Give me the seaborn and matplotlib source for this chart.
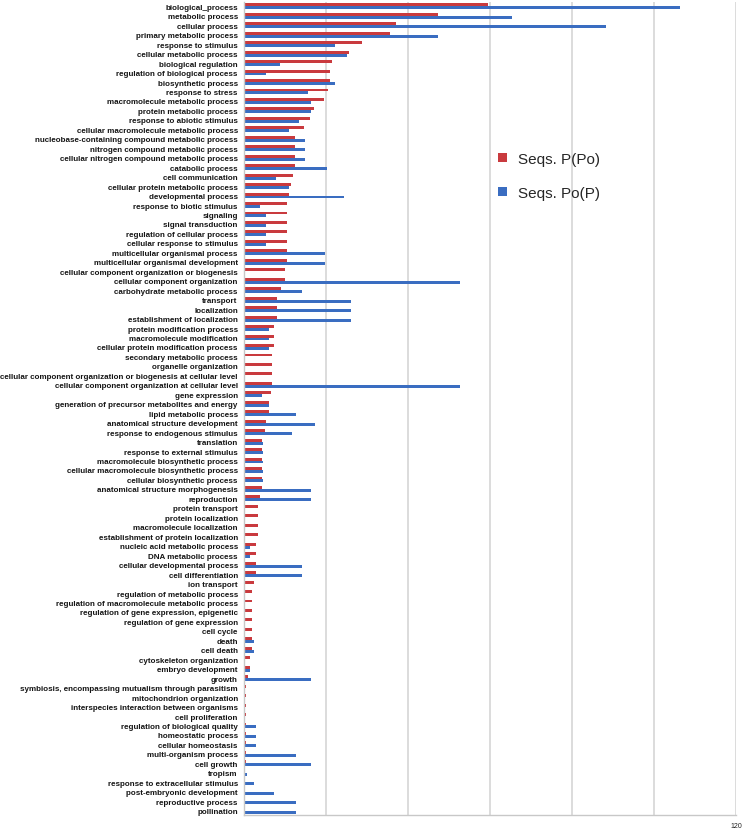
import numpy as np
import pandas as pd
import matplotlib
matplotlib.use("Agg")
import matplotlib.pyplot as plt
import seaborn as sns

categories = [
    "biological_process", "metabolic process", "cellular process",
    "primary metabolic process", "response to stimulus", "cellular metabolic process",
    "biological regulation", "regulation of biological process", "biosynthetic process",
    "response to stress", "macromolecule metabolic process", "protein metabolic process",
    "response to abiotic stimulus", "cellular macromolecule metabolic process",
    "nucleobase-containing compound metabolic process", "nitrogen compound metabolic process",
    "cellular nitrogen compound metabolic process", "catabolic process", "cell communication",
    "cellular protein metabolic process", "developmental process", "response to biotic stimulus",
    "signaling", "signal transduction", "regulation of cellular process",
    "cellular response to stimulus", "multicellular organismal process",
    "multicellular organismal development", "cellular component organization or biogenesis",
    "cellular component organization", "carbohydrate metabolic process", "transport",
    "localization", "establishment of localization", "protein modification process",
    "macromolecule modification", "cellular protein modification process",
    "secondary metabolic process", "organelle organization",
    "cellular component organization or biogenesis at cellular level",
    "cellular component organization at cellular level", "gene expression",
    "generation of precursor metabolites and energy", "lipid metabolic process",
    "anatomical structure development", "response to endogenous stimulus", "translation",
    "response to external stimulus", "macromolecule biosynthetic process",
    "cellular macromolecule biosynthetic process", "cellular biosynthetic process",
    "anatomical structure morphogenesis", "reproduction", "protein transport",
    "protein localization", "macromolecule localization",
    "establishment of protein localization", "nucleic acid metabolic process",
    "DNA metabolic process", "cellular developmental process", "cell differentiation",
    "ion transport", "regulation of metabolic process",
    "regulation of macromolecule metabolic process",
    "regulation of gene expression, epigenetic", "regulation of gene expression",
    "cell cycle", "death", "cell death", "cytoskeleton organization", "embryo development",
    "growth", "symbiosis, encompassing mutualism through parasitism",
    "mitochondrion organization", "interspecies interaction between organisms",
    "cell proliferation", "regulation of biological quality", "homeostatic process",
    "cellular homeostasis", "multi-organism process", "cell growth", "tropism",
    "response to extracellular stimulus", "post-embryonic development",
    "reproductive process", "pollination",
]

seqs_p_po = [
    59.5, 47.4, 37.0, 35.5, 28.9, 25.5, 21.5, 21.0, 21.0, 20.5,
    19.4, 17.0, 16.1, 14.6, 12.5, 12.5, 12.5, 12.5, 11.9, 11.4,
    11.0, 10.5, 10.5, 10.5, 10.5, 10.5, 10.5, 10.5, 9.9, 9.9,
    9.0, 8.0, 8.0, 8.0, 7.4, 7.4, 7.4, 6.9, 6.9, 6.9,
    6.9, 6.5, 6.0, 6.0, 5.4, 5.0, 4.5, 4.5, 4.5, 4.5,
    4.5, 4.5, 4.0, 3.5, 3.5, 3.5, 3.5, 3.0, 3.0, 3.0,
    3.0, 2.5, 2.0, 2.0, 2.0, 2.0, 2.0, 2.0, 2.0, 1.5,
    1.5, 1.0, 0.5, 0.5, 0.5, 0.5, 0.5, 0.5, 0.5, 0.5,
    0.5, 0.0, 0.0, 0.0, 0.0, 0.0,
]

seqs_po_p = [
    106.4, 65.3, 88.2, 47.2, 22.1, 25.1, 8.7, 5.4, 22.1, 15.7,
    16.4, 16.4, 13.3, 11.0, 14.9, 14.9, 14.9, 20.3, 7.7, 11.0,
    24.4, 4.0, 5.4, 5.4, 5.4, 5.4, 19.7, 19.7, 0.0, 52.7,
    14.1, 26.0, 26.0, 26.0, 6.2, 6.2, 6.2, 0.0, 0.0, 0.0,
    52.7, 4.5, 6.2, 12.6, 17.3, 11.7, 4.7, 4.7, 4.7, 4.7,
    4.7, 16.4, 16.4, 0.0, 0.0, 0.0, 0.0, 1.5, 1.5, 14.1,
    14.1, 0.0, 0.0, 0.0, 0.0, 0.0, 0.0, 2.4, 2.4, 0.0,
    1.5, 16.4, 0.0, 0.0, 0.0, 0.0, 3.0, 3.0, 3.0, 12.6,
    16.4, 0.7, 2.4, 7.2, 12.6, 12.6,
]

series_names = ["Seqs. P(Po)", "Seqs. Po(P)"]
colors = ["#C93A3E", "#3A6DC1"]

df = pd.DataFrame({
    "category": categories * 2,
    "value": seqs_p_po + seqs_po_p,
    "series": [series_names[0]] * len(categories) + [series_names[1]] * len(categories),
})

sns.set_style("white")
plt.rcParams["font.family"] = ["Liberation Sans", "DejaVu Sans"]

fig = plt.figure(figsize=(7.43, 8.29), dpi=100)
ax = fig.add_axes([0.3284, 0.0152, 0.6622, 0.9817])

sns.barplot(data=df, y="category", x="value", hue="series", hue_order=series_names,
            order=categories, palette=colors, width=0.62, orient="h",
            saturation=1, ax=ax, edgecolor="none")

ax.set_xlim(0, 120)
ax.set_xticks([0, 20, 40, 60, 80, 100, 120])
ax.set_xticklabels(["", "", "", "", "", "", "120"], fontsize=5)
ax.grid(axis="x", color="#d9d9d9", linewidth=1.3)
ax.set_axisbelow(True)
ax.set_xlabel("")
ax.set_ylabel("")

for s in ["top", "right"]:
    ax.spines[s].set_visible(False)
for s in ["left", "bottom"]:
    ax.spines[s].set_color("#c8c8c8")
    ax.spines[s].set_linewidth(1.0)

ax.tick_params(axis="y", labelsize=5.8, length=3, width=0.6, color="#c8c8c8", pad=1.5,
               labelcolor="#151515")
ax.tick_params(axis="x", length=2, width=0.6, color="#c8c8c8", pad=3, labelcolor="#222222")
for lbl in ax.get_yticklabels():
    lbl.set_fontweight("bold")

leg = ax.legend(loc="center left", bbox_to_anchor=(0.501, 0.786), frameon=False,
                fontsize=11, handlelength=0.55, handleheight=0.55, handletextpad=0.75,
                labelspacing=1.3, borderpad=0)

fig.savefig("out.png", dpi=100)
